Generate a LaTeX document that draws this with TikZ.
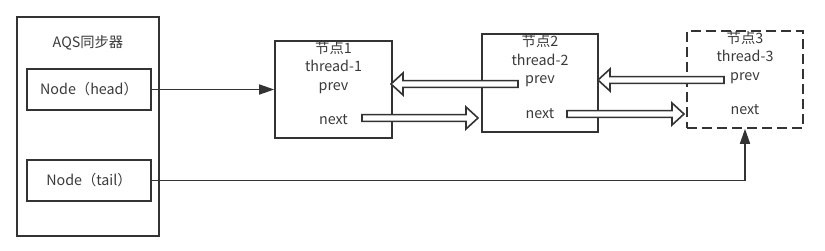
\documentclass[tikz,border=0pt]{standalone}
\usepackage{fontspec}
\setmainfont{Noto Sans CJK SC}
\usetikzlibrary{arrows.meta,calc}
\definecolor{ln}{HTML}{333333}
\definecolor{tx}{HTML}{3A3A3A}
\newcommand\flexleft[2]{\draw[flexstyle] let \p1=(#1), \p2=(#2) in
  (\x1,\y1+3.4pt) -- (\x2+12pt,\y1+3.4pt) -- (\x2+12pt,\y1+11pt) -- (\x2,\y1)
  -- (\x2+12pt,\y1-11pt) -- (\x2+12pt,\y1-3.4pt) -- (\x1,\y1-3.4pt) -- cycle;}
\newcommand\flexright[2]{\draw[flexstyle] let \p1=(#1), \p2=(#2) in
  (\x1,\y1+3.4pt) -- (\x2-12pt,\y1+3.4pt) -- (\x2-12pt,\y1+11pt) -- (\x2,\y1)
  -- (\x2-12pt,\y1-11pt) -- (\x2-12pt,\y1-3.4pt) -- (\x1,\y1-3.4pt) -- cycle;}
\begin{document}
\begin{tikzpicture}[x=1pt,y=-1pt,
  every node/.style={text=tx,font=\fontsize{14.3}{17}\selectfont},
  box/.style={draw=ln,line width=1.6pt,minimum width=#1,inner sep=0pt},
  lbl/.style={inner sep=0pt,text height=10pt,text depth=2.8pt},
  flexstyle/.style={draw=ln,fill=white,line width=1.6pt,line join=miter},
  conn/.style={draw=ln,line width=1.6pt,-{Triangle[length=15pt,width=10pt]}},
  dashbox/.style={box=#1,dash pattern=on 10pt off 5pt}]
\useasboundingbox (0,0) rectangle (825,251);
% AQS container
\node[box=142pt,minimum height=219pt] (aqs) at (88,126.5) {};
\node[lbl] (aqst) at (88,44) {AQS同步器};
\node[box=124pt,minimum height=41pt] (head) at (89,89.5) {Node（head）};
\node[box=124pt,minimum height=41pt] (tail) at (89,180.5) {Node（tail）};
% node 1
\node[box=117pt,minimum height=97pt] (n1) at (333.5,89.5) {};
\node[lbl] (n1a) at (333.5,50) {节点1};
\node[lbl] (n1b) at (333.5,68) {thread-1};
\node[lbl] (n1c) at (333.5,87) {prev};
\node[lbl] (n1d) at (333.5,121) {next};
% node 2
\node[box=116pt,minimum height=98pt] (n2) at (540,83) {};
\node[lbl] (n2a) at (540,43) {节点2};
\node[lbl] (n2b) at (540,62) {thread-2};
\node[lbl] (n2c) at (540,80) {prev};
\node[lbl] (n2d) at (540,115) {next};
% node 3
\node[dashbox=116pt,minimum height=97pt] (n3) at (745,79.5) {};
\node[lbl] (n3a) at (745,40) {节点3};
\node[lbl] (n3b) at (745,58) {thread-3};
\node[lbl] (n3c) at (745,77) {prev};
\node[lbl] (n3d) at (745,111) {next};
% arrow end coordinates
\coordinate (a1s) at (518,84);
\coordinate (a1e) at (391,84);
\coordinate (a2s) at (362,118);
\coordinate (a2e) at (478,118);
\coordinate (a3s) at (724,80);
\coordinate (a3e) at (598,80);
\coordinate (a4s) at (567,114);
\coordinate (a4e) at (684,114);
% hollow arrows
\flexleft{a1s}{a1e}
\flexright{a2s}{a2e}
\flexleft{a3s}{a3e}
\flexright{a4s}{a4e}
% connectors
\draw[conn] (head.east) -- (head.east -| n1.west);
\draw[conn] (tail.east) -| (n3.south);
\end{tikzpicture}
\end{document}
